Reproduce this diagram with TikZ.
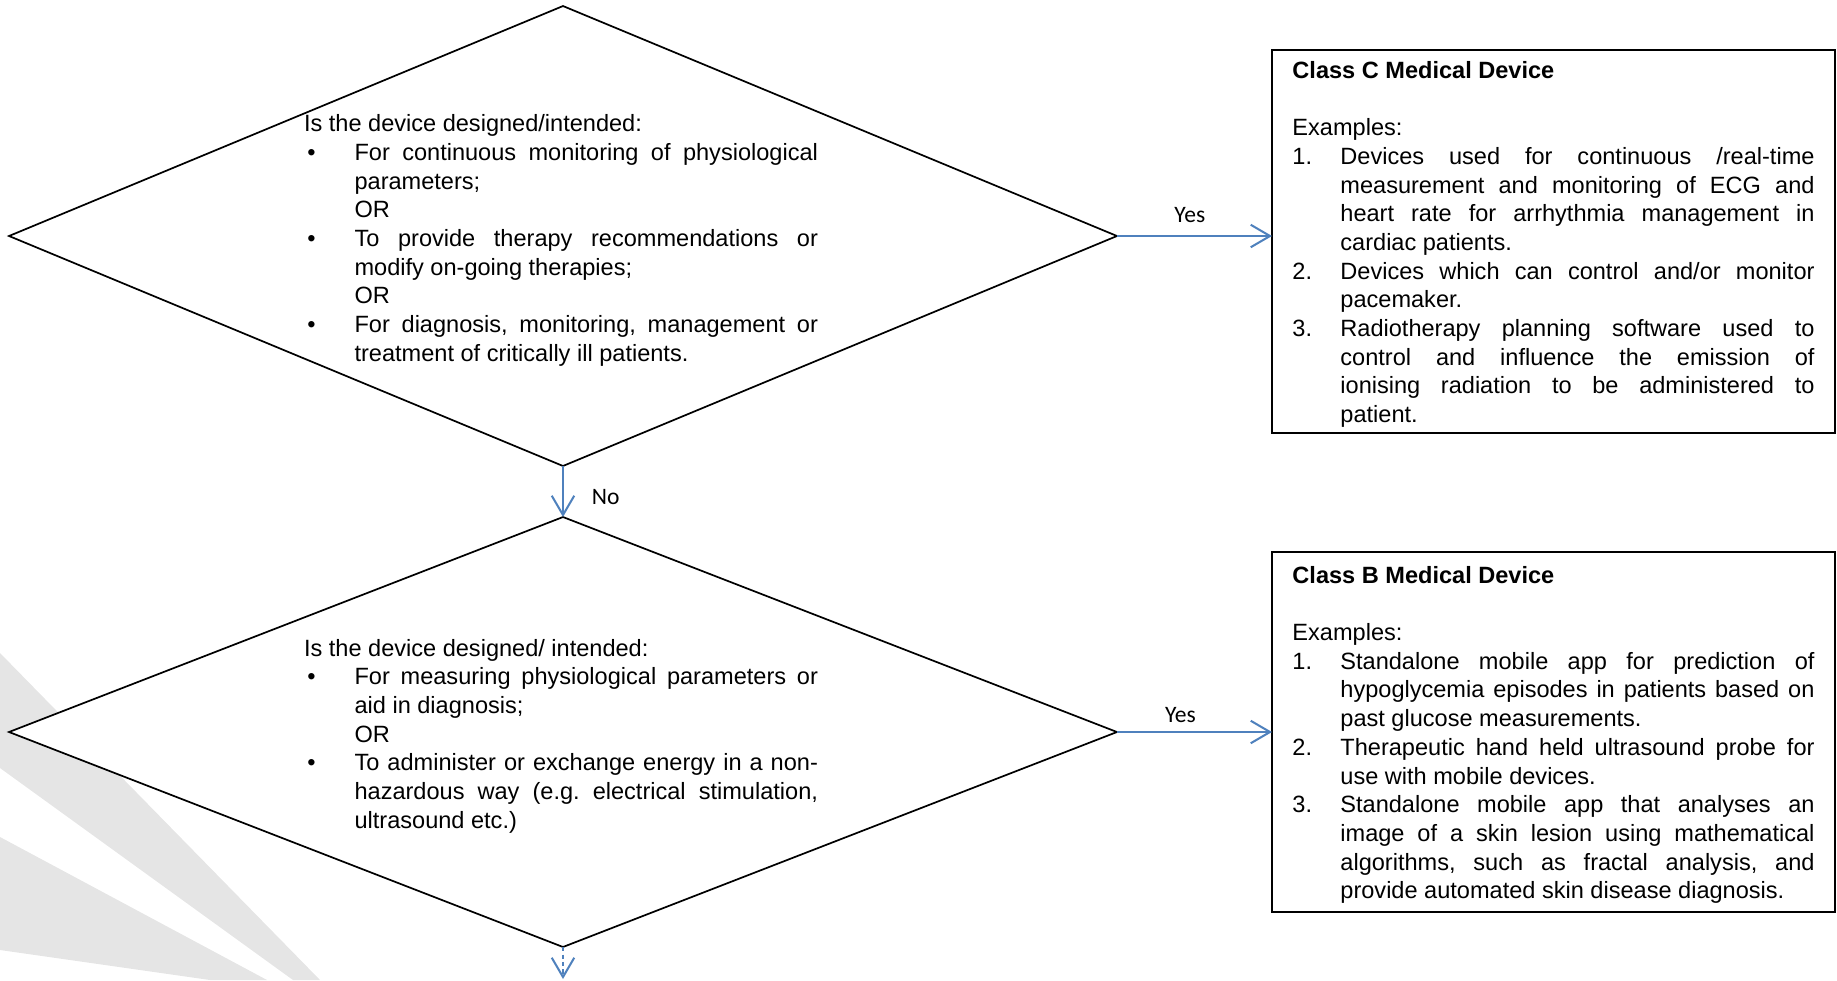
\documentclass[tikz,border=0pt]{standalone}
\usepackage{fontspec}
\setmainfont{Liberation Sans}
\newfontfamily\labelfont{Carlito}
\usepackage{xcolor}
\usepackage{tikz}
\usetikzlibrary{shapes.geometric,arrows.meta}

\definecolor{flowblue}{RGB}{79,129,189}
\definecolor{beamgray}{RGB}{229,229,229}

\setlength{\parindent}{0pt}
\tolerance=10000
\hyphenpenalty=10000
\exhyphenpenalty=10000
\frenchspacing

\newcommand{\bodysize}{\fontsize{11pt}{13.4pt}\selectfont}
\newcommand{\qitem}[1]{\par\noindent\hangindent=23.6pt\hangafter=1\makebox[23.6pt][l]{\hspace{1.6pt}\textbullet}#1\par}
\newcommand{\exitem}[2]{\par\noindent\hangindent=22.4pt\hangafter=1\makebox[22.4pt][l]{#1}#2\par}

\begin{document}
\begin{tikzpicture}[
		x=0.467pt, y=-0.467pt,
		decision/.style={diamond, draw, fill=white, line width=0.8pt, inner sep=0pt, outer sep=0pt, minimum width=517.4pt},
		question/.style={text width=240pt, align=justify, inner sep=0pt, font=\bodysize},
		outcome/.style={rectangle, draw, fill=white, line width=0.8pt, text width=243.8pt, inner xsep=9.55pt, inner ysep=0pt, outer sep=0pt, align=justify, font=\bodysize},
		answer/.style={font=\labelfont\fontsize{11pt}{13pt}\selectfont, inner sep=0pt},
		arrow/.style={-{Straight Barb[length=9pt,width=10.5pt]}, draw=flowblue, line width=0.95pt}
	]
		\useasboundingbox (0,0) rectangle (1837,980);

		% Watermark
		\fill[beamgray] (0,653) -- (320,980) -- (293,980) -- (0,768) -- cycle;
		\fill[beamgray] (0,837) -- (267,980) -- (210,980) -- (0,950) -- cycle;

		% Decisions
		\node[decision, minimum height=214.8pt] (dec1) at (563,236) {};
		\node[question] (q1) at (561,240.5) {Is the device designed/intended:
			\qitem{For continuous monitoring of physiological\linebreak parameters;\newline OR}
			\qitem{To provide therapy recommendations or\linebreak modify on-going therapies;\newline OR}
			\qitem{For diagnosis, monitoring, management or\linebreak treatment of critically ill patients.}};

		\node[decision, minimum height=200.8pt] (dec2) at (563,732) {};
		\node[question] (q2) at (561,736) {Is the device designed/ intended:
			\qitem{For measuring physiological parameters or\linebreak aid in diagnosis;\newline OR}
			\qitem{To administer or exchange energy in a non-\linebreak hazardous way (e.g. electrical stimulation,\linebreak ultrasound etc.)}};

		% Outcomes
		\node[outcome, minimum height=178.9pt] (classc) at (1553.5,241.5) {\rule{0pt}{10.7pt}\textbf{Class C Medical Device}\par\mbox{}\par
			Examples:
			\exitem{1.}{Devices used for continuous /real-time\linebreak measurement and monitoring of ECG and\linebreak heart rate for arrhythmia management in\linebreak cardiac patients.}
			\exitem{2.}{Devices which can control and/or monitor\linebreak pacemaker.}
			\exitem{3.}{Radiotherapy planning software used to\linebreak control and influence the emission of\linebreak ionising radiation to be administered to\linebreak patient.}};

		\node[outcome, minimum height=168.1pt] (classb) at (1553.5,732) {\rule{0pt}{10.7pt}\textbf{Class B Medical Device}\par\mbox{}\par
			Examples:
			\exitem{1.}{Standalone mobile app for prediction of\linebreak hypoglycemia episodes in patients based on\linebreak past glucose measurements.}
			\exitem{2.}{Therapeutic hand held ultrasound probe for\linebreak use with mobile devices.}
			\exitem{3.}{Standalone mobile app that analyses an\linebreak image of a skin lesion using mathematical\linebreak algorithms, such as fractal analysis, and\linebreak provide automated skin disease diagnosis.}};

		% Arrows
		\draw[arrow] (dec1.east) -- (dec1.east -| classc.west) node[answer, pos=0.47, yshift=10pt] (yes1) {Yes};
		\draw[arrow] (dec2.east) -- (dec2.east -| classb.west) node[answer, pos=0.41, yshift=8pt] (yes2) {Yes};
		\draw[arrow] (dec1.south) -- (dec2.north) node[answer, midway, right=13pt, yshift=-2.5pt] (no1) {No};

		% Continuation
		\coordinate (cont) at (563,979);
		\draw[arrow, dash pattern=on 2pt off 1.5pt] (dec2.south) -- (cont);
	\end{tikzpicture}
\end{document}
